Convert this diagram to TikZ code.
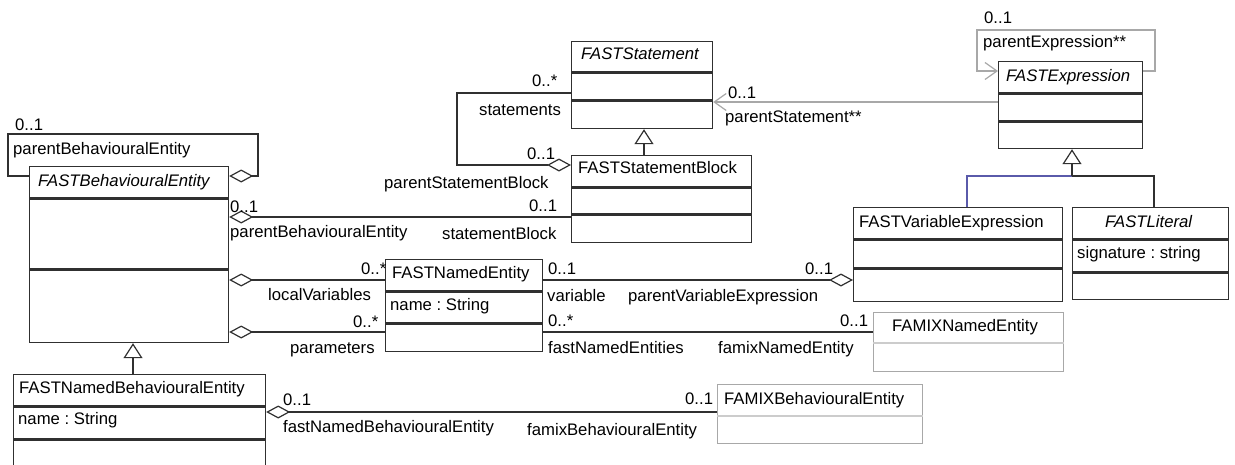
\documentclass[tikz,border=0pt]{standalone}
\usepackage{fontspec}
\setmainfont{Liberation Sans}
\usetikzlibrary{arrows.meta}
\definecolor{umlline}{HTML}{303030}
\definecolor{umlgray}{HTML}{A8A8A8}
\definecolor{umllight}{HTML}{CCCCCC}
\definecolor{umlblue}{HTML}{5A5AAA}
\frenchspacing
\tikzset{
  cls/.style={draw=umlline,line width=1.2pt,inner sep=0pt,anchor=north west},
  extcls/.style={draw=umlgray,line width=1.2pt,inner sep=0pt,anchor=north west},
  sep/.style={draw=umlline,line width=3pt},
  extsep/.style={draw=umllight,line width=2.4pt},
  txt/.style={font=\fontsize{16.7}{20}\selectfont,inner sep=0pt,text height=12pt,text depth=0pt,anchor=west},
  assoc/.style={draw=umlline,line width=1.2pt},
  agg/.style={assoc,arrows={Diamond[open,length=24pt,width=13pt]-}},
  nav/.style={draw=umlgray,line width=1.2pt,arrows={-Straight Barb[length=12pt,width=17pt]}},
  gen/.style={assoc,arrows={-Triangle[open,length=15pt,width=19pt]}}
}
\begin{document}
\begin{tikzpicture}[x=1pt,y=-1pt]
\useasboundingbox (0,0) rectangle (1235,464);
% class boxes
\node(beh) [cls,minimum width=199pt,minimum height=176pt] at (29,166) {};
\draw[sep] (beh.west |- 0,198) -- (beh.east |- 0,198);
\draw[sep] (beh.west |- 0,269) -- (beh.east |- 0,269);
\node(beh-n) [txt] at (38,180) {\itshape FASTBehaviouralEntity};

\node(stmt) [cls,minimum width=141pt,minimum height=87pt] at (571,41) {};
\draw[sep] (stmt.west |- 0,72) -- (stmt.east |- 0,72);
\draw[sep] (stmt.west |- 0,100) -- (stmt.east |- 0,100);
\node(stmt-n) [txt] at (581,53.5) {\itshape FASTStatement};

\node(blk) [cls,minimum width=180pt,minimum height=87pt] at (571,155) {};
\draw[sep] (blk.west |- 0,187) -- (blk.east |- 0,187);
\draw[sep] (blk.west |- 0,214) -- (blk.east |- 0,214);
\node(blk-n) [txt] at (578,167.5) {FASTStatementBlock};

\node(nent) [cls,minimum width=157pt,minimum height=92pt] at (385,259) {};
\draw[sep] (nent.west |- 0,291) -- (nent.east |- 0,291);
\draw[sep] (nent.west |- 0,323) -- (nent.east |- 0,323);
\node(nent-n) [txt] at (392,272.5) {FASTNamedEntity};
\node(nent-a) [txt] at (390,304) {name : String};

\node(nbeh) [cls,minimum width=252pt,minimum height=110pt] at (13,374) {};
\draw[sep] (nbeh.west |- 0,406) -- (nbeh.east |- 0,406);
\draw[sep] (nbeh.west |- 0,439) -- (nbeh.east |- 0,439);
\node(nbeh-n) [txt] at (19,387.5) {FASTNamedBehaviouralEntity};
\node(nbeh-a) [txt] at (18,418.5) {name : String};

\node(expr) [cls,minimum width=144pt,minimum height=87pt] at (998,61) {};
\draw[sep] (expr.west |- 0,93) -- (expr.east |- 0,93);
\draw[sep] (expr.west |- 0,121) -- (expr.east |- 0,121);
\node(expr-n) [txt] at (1006,75) {\itshape FASTExpression};

\node(varx) [cls,minimum width=209pt,minimum height=94pt] at (853,207) {};
\draw[sep] (varx.west |- 0,239) -- (varx.east |- 0,239);
\draw[sep] (varx.west |- 0,268) -- (varx.east |- 0,268);
\node(varx-n) [txt] at (859,221) {FASTVariableExpression};

\node(lit) [cls,minimum width=156pt,minimum height=92pt] at (1072,207) {};
\draw[sep] (lit.west |- 0,239) -- (lit.east |- 0,239);
\draw[sep] (lit.west |- 0,272) -- (lit.east |- 0,272);
\node(lit-n) [txt] at (1105,221) {\itshape FASTLiteral};
\node(lit-a) [txt] at (1077,252.5) {signature : string};

\node(fnent) [extcls,minimum width=190pt,minimum height=59pt] at (873,312) {};
\draw[extsep] (fnent.west |- 0,343) -- (fnent.east |- 0,343);
\node(fnent-n) [txt] at (892,325) {FAMIXNamedEntity};

\node(fbeh) [extcls,minimum width=205pt,minimum height=59pt] at (717,384) {};
\draw[extsep] (fbeh.west |- 0,416) -- (fbeh.east |- 0,416);
\node(fbeh-n) [txt] at (724,398.5) {FAMIXBehaviouralEntity};

% generalizations
\draw[gen] (blk.north -| 644,0) -- (stmt.south -| 644,0);
\draw[gen] (nbeh.north -| 133,0) -- (beh.south -| 133,0);
\coordinate(genjoin) at (1072,176);
\draw[draw=umlblue,line width=1.2pt] (varx.north -| 967,0) |- (genjoin);
\draw[assoc] (lit.north -| 1154,0) |- (genjoin);
\draw[gen] (genjoin) -- (expr.south -| genjoin);

% associations
\draw[agg] (beh.east |- 0,176) -- (258,176) |- (8,134) |- (beh.west |- 0,176);
\node(pbe-m) [txt] at (15,124.5) {0..1};
\node(pbe-r) [txt] at (13,148.5) {parentBehaviouralEntity};

\draw[agg] (blk.west |- 0,165) -| (457,93) -- (stmt.west |- 0,93);
\node(st-m) [txt] at (532,80) {0..*};
\node(st-r) [txt] at (479,109) {statements};
\node(psb-m) [txt] at (527,153) {0..1};
\node(psb-r) [txt] at (384,182) {parentStatementBlock};

\draw[agg] (beh.east |- 0,217) -- (blk.west |- 0,217);
\node(pbe2-m) [txt] at (230,206) {0..1};
\node(pbe2-r) [txt] at (230,231) {parentBehaviouralEntity};
\node(sb-m) [txt] at (529,205) {0..1};
\node(sb-r) [txt] at (442,233) {statementBlock};

\draw[agg] (beh.east |- 0,280) -- (nent.west |- 0,280);
\node(lv-m) [txt] at (361,268) {0..*};
\node(lv-r) [txt] at (268,294) {localVariables};

\draw[agg] (beh.east |- 0,332) -- (nent.west |- 0,332);
\node(par-m) [txt] at (353,321) {0..*};
\node(par-r) [txt] at (290,347) {parameters};

\draw[agg] (varx.west |- 0,280) -- (nent.east |- 0,280);
\node(var-m) [txt] at (548,268) {0..1};
\node(var-r) [txt] at (547,295) {variable};
\node(pve-r) [txt] at (628,295) {parentVariableExpression};
\node(pve-m) [txt] at (805,268) {0..1};

\draw[assoc] (nent.east |- 0,332) -- (fnent.west |- 0,332);
\node(fne-m) [txt] at (548,320) {0..*};
\node(fne-r) [txt] at (548,347) {fastNamedEntities};
\node(mne-r) [txt] at (718,347) {famixNamedEntity};
\node(mne-m) [txt] at (840,320) {0..1};

\draw[agg] (nbeh.east |- 0,412) -- (fbeh.west |- 0,412);
\node(fnbe-m) [txt] at (283,399) {0..1};
\node(fnbe-r) [txt] at (283,426) {fastNamedBehaviouralEntity};
\node(mbe-m) [txt] at (685,398) {0..1};
\node(mbe-r) [txt] at (527,429) {famixBehaviouralEntity};

\draw[nav] (expr.west |- 0,102) -- (stmt.east |- 0,102);
\node(ps-m) [txt] at (728,92) {0..1};
\node(ps-r) [txt] at (725,116) {parentStatement**};

\draw[nav] (expr.east |- 0,71) -- (1155,71) |- (977,30) |- (expr.west |- 0,71);
\node(pe-m) [txt] at (984,17) {0..1};
\node(pe-r) [txt] at (983,41) {parentExpression**};
\end{tikzpicture}
\end{document}
